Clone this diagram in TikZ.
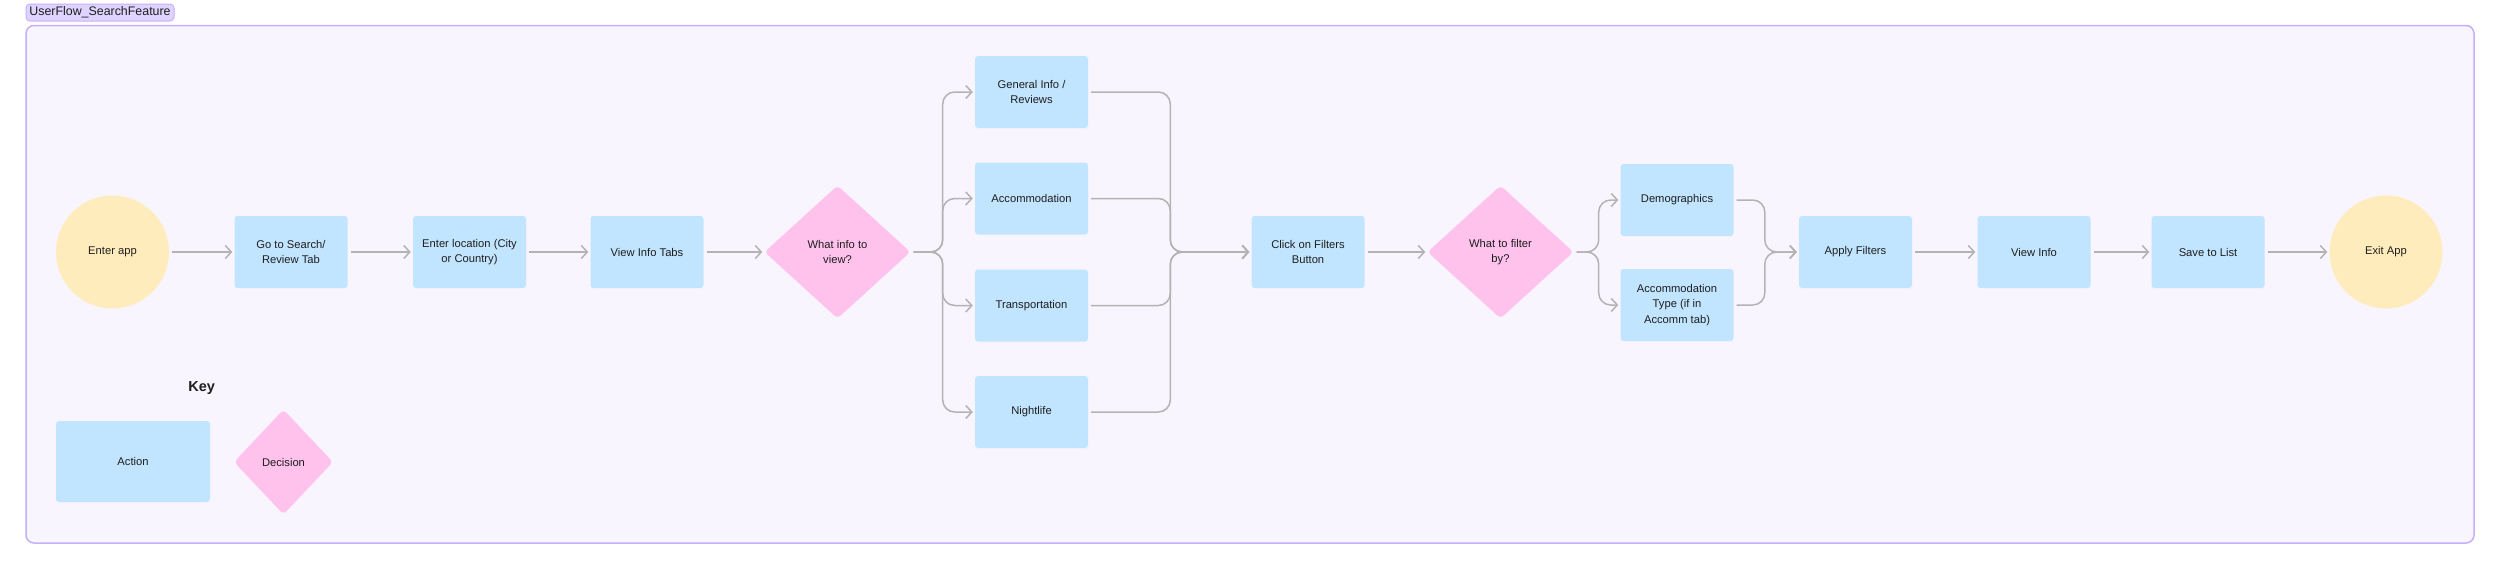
\documentclass[tikz,border=0pt]{standalone}
\usepackage{fontspec}
\setmainfont{Liberation Sans}
\usetikzlibrary{shapes.geometric,positioning,arrows.meta}
\definecolor{actblue}{HTML}{C2E5FF}
\definecolor{decpink}{HTML}{FFC2EC}
\definecolor{endyellow}{HTML}{FFECBD}
\definecolor{flowgray}{HTML}{B3B3B3}
\definecolor{framelilac}{HTML}{C7AEFC}
\definecolor{framefill}{HTML}{F8F5FF}
\definecolor{tagfill}{HTML}{DED4FF}
\definecolor{txtdark}{HTML}{1E1E1E}

\begin{document}
\begin{tikzpicture}[%
    x=1pt, y=-1pt,             % one unit per pixel, y running down
    >={Straight Barb[length=6pt,width=13pt]},
    node distance=178pt,       % usual step along the main row
    every node/.style={text=txtdark},
    ]
% -------------------------------------------------
% Box styles
\tikzset{
  base/.style={on grid, align=center, inner sep=0pt, font=\fontsize{11.2}{15.6}\selectfont},
  act/.style={base, rectangle, rounded corners=3pt, fill=actblue, minimum width=113pt, minimum height=72pt},
  dec/.style={base, diamond, rounded corners=4pt, fill=decpink, minimum width=146pt, minimum height=133pt},
  term/.style={base, circle, fill=endyellow, minimum size=113pt},
  norm/.style={->, draw=flowgray, line width=1.5pt, shorten <=3pt, shorten >=2pt},
  fan/.style={norm, rounded corners=12pt},
  frame/.style={draw=framelilac, fill=framefill, line width=1.5pt, rounded corners=8pt},
  tag/.style={draw=framelilac, fill=tagfill, line width=1pt, rounded corners=4pt, inner sep=0pt,
    minimum width=148pt, minimum height=17pt, font=\fontsize{12.4}{14}\selectfont}
  }
\useasboundingbox (0,0) rectangle (2500,571);
% -------------------------------------------------
% Frame and its title
\draw [frame] (26,25.5) rectangle (2474,543);
\node [tag] (t0) at (100,12.5) {UserFlow\_SearchFeature};
% -------------------------------------------------
% Main row, first part
\node [term] (s0) at (112.5,252) {Enter app};
\node [act, right=178.5pt of s0] (a1) {Go to Search/\\Review Tab};
\node [act, right=178.5pt of a1] (a2) {Enter location (City\\or Country)};
\node [act, right=177.5pt of a2] (a3) {View Info Tabs};
\node [dec, right=190.5pt of a3] (d1) {What info to\\view?};

% info tabs
\node [act, above right=53.5pt and 194pt of d1] (o2) {Accommodation};
\node [act, above=106.5pt of o2] (o1) {General Info /\\Reviews};
\node [act, below=107pt of o2] (o3) {Transportation};
\node [act, below=106.5pt of o3] (o4) {Nightlife};

% main row, second part
\node [act, right=470.5pt of d1] (a4) {Click on Filters\\Button};
\node [dec, right=192.5pt of a4] (d2) {What to filter\\by?};
\node [act, above right=52pt and 176.5pt of d2] (g1) {Demographics};
\node [act, below=105pt of g1] (g2) {Accommodation\\Type (if in\\Accomm tab)};
\node [act, right=355pt of d2] (a5) {Apply Filters};
\node [act, right=178.5pt of a5] (a6) {View Info};
\node [act, right=174pt of a6] (a7) {Save to List};
\node [term, right=178pt of a7] (s1) {Exit App};

% -------------------------------------------------
% Straight connectors
\draw [norm] (s0) -- (a1);
\draw [norm] (a1) -- (a2);
\draw [norm] (a2) -- (a3);
\draw [norm] (a3) -- (d1);
\draw [norm] (a4) -- (d2);
\draw [norm] (a5) -- (a6);
\draw [norm] (a6) -- (a7);
\draw [norm] (a7) -- (s1);

% Fans out of the decisions and back in
\coordinate (f1) at ([xshift=32pt] d1.east);
\coordinate (m1) at ([xshift=-81pt] a4.west);
\foreach \o in {o1,o2,o3,o4} {
  \draw [fan] (d1.east) -- (f1) |- (\o.west);
  \draw [fan] (\o.east) -| (m1) -- (a4.west);
}
\coordinate (f2) at ([xshift=25pt] d2.east);
\coordinate (m2) at ([xshift=-34pt] a5.west);
\foreach \g in {g1,g2} {
  \draw [fan] (d2.east) -- (f2) |- (\g.west);
  \draw [fan] (\g.east) -| (m2) -- (a5.west);
}

% -------------------------------------------------
% Key
\node [font=\bfseries\fontsize{14.5}{16}\selectfont] (k0) at (201.7,388) {Key};
\node [act, minimum width=154pt, minimum height=81pt] (k1) at (133,461.5) {Action};
\node [dec, minimum width=99pt, minimum height=105pt] (k2) at (283.5,462) {Decision};
\end{tikzpicture}
\end{document}
